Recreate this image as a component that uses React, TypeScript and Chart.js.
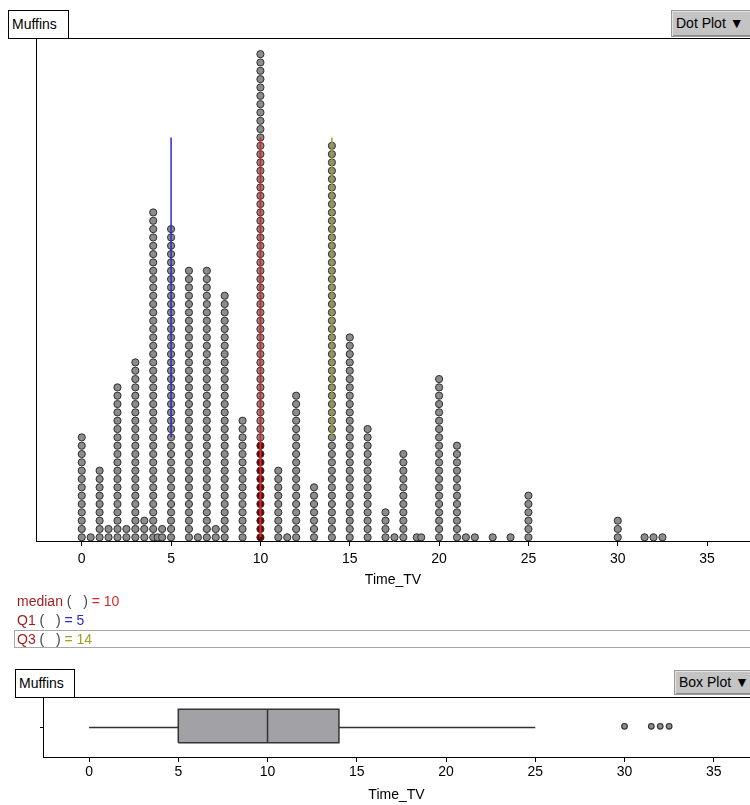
import React, { useEffect, useRef } from 'react';
import { Chart, registerables } from 'chart.js';

Chart.register(...registerables);

// Time_TV values and how many cases sit at each value
const dotValues = [0, 0.5, 1, 1.5, 2, 2.5, 3, 3.5, 4, 4.25, 4.5, 5, 6, 6.5, 7, 7.5, 8, 9, 10, 11, 11.5, 12, 13, 14, 15, 16, 17, 17.5, 18, 18.75, 19, 20, 21, 21.5, 22, 23, 24, 25, 30, 31.5, 32, 32.5];
const dotCounts = [13, 1, 9, 2, 19, 2, 22, 3, 40, 1, 2, 38, 33, 1, 33, 2, 30, 15, 59, 9, 1, 18, 7, 48, 25, 14, 4, 1, 11, 1, 1, 20, 12, 1, 1, 1, 1, 6, 3, 1, 1, 1];

// Summary statistics shown under the dot plot
const statNames = ['median', 'Q1', 'Q3'];
const statValues = [10, 5, 14];
const statColors = ['#d42a2a', '#2b2bd0', '#a0a020'];

// Box plot: min whisker, Q1, median, Q3, max whisker, then outliers
const fiveNumber = [0, 5, 10, 14, 25];
const outlierValues = [30, 31.5, 32, 32.5];

const tickValues = [0, 5, 10, 15, 20, 25, 30, 35];

const FONT = '"Liberation Sans", Arial, sans-serif';
const LABEL_RED = '#9c1c1c';

// stack heights (in dot units) of the statistic lines
const statLineBase = 12;
const statLineTop = 48;

function buildDots() {
  const pts: { x: number; y: number }[] = [];
  dotValues.forEach((v, i) => {
    for (let k = 0; k < dotCounts[i]; k++) pts.push({ x: v, y: k });
  });
  return pts;
}

function xAxis(min: number, max: number, labelPad: number, titlePad: number, height: number) {
  return {
    type: 'linear' as const,
    min,
    max,
    afterBuildTicks: (s: any) => {
      s.ticks = tickValues.map((v) => ({ value: v }));
    },
    afterFit: (s: any) => {
      s.height = height;
    },
    ticks: {
      color: '#000',
      font: { family: FONT, size: 14 },
      padding: labelPad,
      maxRotation: 0,
      autoSkip: false,
    },
    grid: { drawOnChartArea: false, drawTicks: true, tickLength: 5, color: '#000', lineWidth: 1 },
    border: { color: '#000', width: 1 },
    title: {
      display: true,
      text: 'Time_TV',
      color: '#000',
      font: { family: FONT, size: 14 },
      padding: { top: 0, bottom: titlePad },
    },
  };
}

function DotPlot() {
  const ref = useRef<HTMLCanvasElement>(null);
  useEffect(() => {
    const [medianValue, q1Value, q3Value] = statValues;
    const lineSpan = (x: number, base: number) => [
      { x, y: base },
      { x, y: statLineTop },
    ];
    const chart = new Chart(ref.current!, {
      type: 'scatter',
      data: {
        datasets: [
          {
            type: 'line',
            data: lineSpan(medianValue, 0),
            borderColor: statColors[0],
            borderWidth: 2,
            pointRadius: 0,
          },
          {
            type: 'line',
            data: lineSpan(q1Value, statLineBase),
            borderColor: statColors[1],
            borderWidth: 1.5,
            pointRadius: 0,
          },
          {
            type: 'line',
            data: lineSpan(q3Value, statLineBase),
            borderColor: statColors[2],
            borderWidth: 1.5,
            pointRadius: 0,
          },
          {
            type: 'scatter',
            data: buildDots(),
            pointRadius: 3.6,
            pointBorderWidth: 1,
            pointBorderColor: '#2e2e2e',
            pointBackgroundColor: (ctx: any) => {
              const p = ctx.raw;
              if (p && p.x === medianValue && p.y < statLineBase) return '#6a0505';
              return '#8c8c8c';
            },
          },
        ] as any,
      },
      options: {
        animation: false,
        responsive: false,
        layout: { autoPadding: false, padding: { left: 36, top: 38, right: 0, bottom: 0 } },
        plugins: { legend: { display: false }, tooltip: { enabled: false } },
        scales: {
          x: xAxis(-2.56, 37.4, 5, 11, 59) as any,
          y: {
            type: 'linear',
            min: -0.44,
            max: 59.94,
            afterFit: (s: any) => {
              s.width = 0;
            },
            ticks: { display: false },
            grid: { drawOnChartArea: false, drawTicks: false },
            border: { color: '#000', width: 1 },
          },
        },
      },
    });
    return () => chart.destroy();
  }, []);
  return <canvas ref={ref} width={750} height={600} style={{ position: 'absolute', left: 0, top: 0 }} />;
}

function BoxPlot() {
  const ref = useRef<HTMLCanvasElement>(null);
  useEffect(() => {
    const [lo, q1, med, q3, hi] = fiveNumber;
    const boxBottom = 0.24;
    const boxTop = 0.81;
    const mid = 0.5;
    const chart = new Chart(ref.current!, {
      type: 'scatter',
      data: {
        datasets: [
          {
            type: 'scatter',
            data: outlierValues.map((v) => ({ x: v, y: mid + 0.02 })),
            pointRadius: 2.8,
            pointBorderWidth: 1.2,
            pointBorderColor: '#333',
            pointBackgroundColor: '#8c8c8c',
          },
          {
            type: 'line',
            data: [
              { x: med, y: boxBottom },
              { x: med, y: boxTop },
            ],
            borderColor: '#333',
            borderWidth: 1.5,
            pointRadius: 0,
          },
          {
            type: 'line',
            data: [
              { x: q1, y: boxBottom },
              { x: q3, y: boxBottom },
              { x: q3, y: boxTop },
              { x: q1, y: boxTop },
              { x: q1, y: boxBottom },
            ],
            borderColor: '#333',
            borderWidth: 1.5,
            backgroundColor: '#a2a2a6',
            fill: 'shape',
            pointRadius: 0,
          },
          {
            type: 'line',
            data: [
              { x: lo, y: mid },
              { x: q1, y: mid },
            ],
            borderColor: '#333',
            borderWidth: 1.3,
            pointRadius: 0,
          },
          {
            type: 'line',
            data: [
              { x: q3, y: mid },
              { x: hi, y: mid },
            ],
            borderColor: '#333',
            borderWidth: 1.3,
            pointRadius: 0,
          },
        ] as any,
      },
      options: {
        animation: false,
        responsive: false,
        layout: { autoPadding: false, padding: { left: 40, top: 38, right: 0, bottom: 0 } },
        plugins: { legend: { display: false }, tooltip: { enabled: false } },
        scales: {
          x: xAxis(-2.58, 37.03, 2, 1, 48) as any,
          y: {
            type: 'linear',
            min: 0,
            max: 1,
            afterBuildTicks: (s: any) => {
              s.ticks = [{ value: 0.5 }];
            },
            afterFit: (s: any) => {
              s.width = 3;
            },
            ticks: { display: false },
            grid: { drawOnChartArea: false, drawTicks: true, tickLength: 3, color: '#000' },
            border: { color: '#000', width: 1 },
          },
        },
      },
    });
    return () => chart.destroy();
  }, []);
  return <canvas ref={ref} width={750} height={145} style={{ position: 'absolute', left: 0, top: 660 }} />;
}

function NameTag({ left, top, width, height }: { left: number; top: number; width: number; height: number }) {
  return (
    <div
      style={{
        position: 'absolute',
        left,
        top,
        width,
        height,
        boxSizing: 'border-box',
        border: '1px solid #000',
        background: '#fff',
        fontSize: 14,
        lineHeight: `${height - 2}px`,
        paddingLeft: 3,
        color: '#000',
      }}
    >
      Muffins
    </div>
  );
}

function MenuButton({ left, top, height, text }: { left: number; top: number; height: number; text: string }) {
  return (
    <div
      style={{
        position: 'absolute',
        left,
        top,
        width: 760 - left,
        height,
        boxSizing: 'border-box',
        background: '#c4c4c4',
        border: '1px solid #9a9a9a',
        boxShadow: 'inset 1px 1px 0 #e2e2e2, inset -1px -1px 0 #8a8a8a',
        fontSize: 14,
        lineHeight: `${height - 2}px`,
        paddingLeft: 4,
        color: '#000',
        whiteSpace: 'nowrap',
      }}
    >
      {text} <span style={{ fontSize: 14 }}>▼</span>
    </div>
  );
}

function StatRow({ i, top, boxed }: { i: number; top: number; boxed?: boolean }) {
  return (
    <div
      style={{
        position: 'absolute',
        left: 14,
        top,
        width: 745,
        height: 18,
        boxSizing: 'border-box',
        border: boxed ? '1px solid #a8a8a8' : '1px solid transparent',
        fontSize: 14,
        lineHeight: '16px',
        paddingLeft: 2,
        whiteSpace: 'pre',
      }}
    >
      <span style={{ color: LABEL_RED }}>{statNames[i]}</span>
      <span style={{ color: '#444' }}>{' (   ) '}</span>
      <span style={{ color: statColors[i] }}>= {statValues[i]}</span>
    </div>
  );
}

export default function App() {
  return (
    <div
      style={{
        position: 'fixed',
        left: 0,
        top: 0,
        width: 750,
        height: 805,
        overflow: 'hidden',
        background: '#fff',
        fontFamily: FONT,
      }}
    >
      <DotPlot />
      <BoxPlot />
      <div style={{ position: 'absolute', left: 8, top: 38, width: 742, height: 1, background: '#000' }} />
      <NameTag left={8} top={10} width={61} height={29} />
      <MenuButton left={671} top={10} height={27} text="Dot Plot" />
      <StatRow i={0} top={592} />
      <StatRow i={1} top={611} />
      <StatRow i={2} top={630} boxed />
      <div style={{ position: 'absolute', left: 15, top: 697, width: 735, height: 1, background: '#000' }} />
      <NameTag left={15} top={669} width={60} height={29} />
      <MenuButton left={674} top={670} height={25} text="Box Plot" />
    </div>
  );
}
